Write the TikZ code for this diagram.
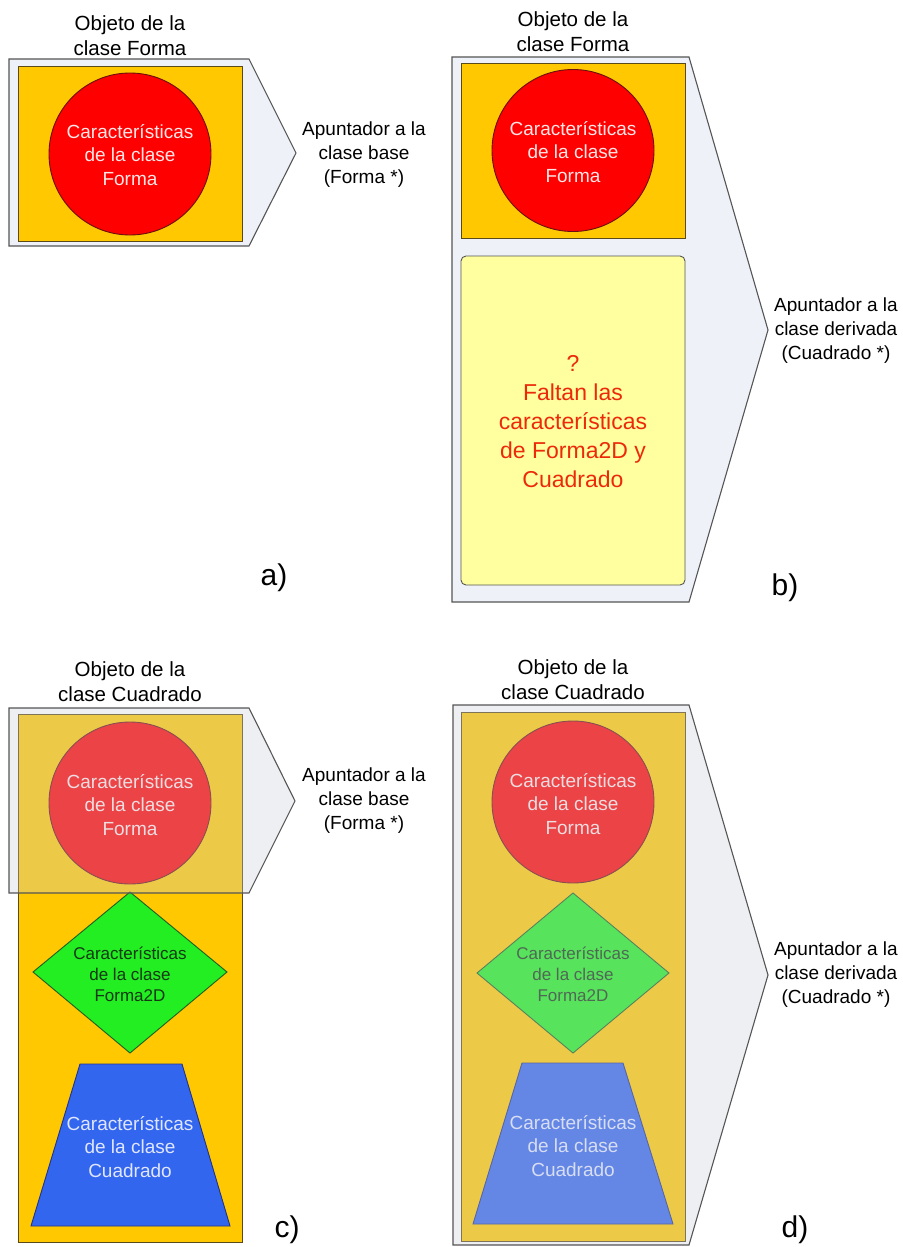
\documentclass[tikz,border=0pt]{standalone}
\usepackage{fontspec}
\setmainfont{Liberation Sans}
\definecolor{gold}{HTML}{FFC800}
\definecolor{goldline}{HTML}{5A4A1A}
\definecolor{redfill}{HTML}{FF0000}
\definecolor{redline}{HTML}{6A1010}
\definecolor{pinktext}{HTML}{FFE6E6}
\definecolor{holderfill}{HTML}{EEF1F7}
\definecolor{holderline}{HTML}{555555}
\definecolor{paleyellow}{HTML}{FFFFA0}
\definecolor{missing}{HTML}{EC2A0A}
\definecolor{greenfill}{HTML}{22EE22}
\definecolor{greenline}{HTML}{1F5F1F}
\definecolor{greentext}{HTML}{143814}
\definecolor{bluefill}{HTML}{3366EE}
\definecolor{blueline}{HTML}{22338A}
\definecolor{bluetext}{HTML}{E0E6FF}
\definecolor{veil}{RGB}{200,205,215}
\begin{document}
\begin{tikzpicture}[x=1pt,y=-1pt,
  holder/.style={draw=holderline, line width=1.1pt, fill=holderfill, line join=miter},
  veilholder/.style={draw=holderline, line width=1.1pt, fill=veil, fill opacity=0.33, line join=miter},
  goldbox/.style={draw=goldline, line width=0.9pt, fill=gold},
  formashape/.style={draw=redline, line width=0.9pt, fill=redfill},
  forma2dshape/.style={draw=greenline, line width=0.9pt, fill=greenfill},
  cuadshape/.style={draw=blueline, line width=0.9pt, fill=bluefill},
  missingbox/.style={draw=holderline, line width=0.9pt, fill=paleyellow, rounded corners=5pt},
  title/.style={font=\fontsize{20.5}{25}\selectfont, align=center, text=black, inner sep=0pt},
  pointer/.style={font=\fontsize{19}{24}\selectfont, align=center, text=black, inner sep=0pt},
  feat/.style={font=\fontsize{19}{23.5}\selectfont, align=center, inner sep=0pt},
  smallfeat/.style={font=\fontsize{17}{21}\selectfont, align=center, inner sep=0pt},
  missingtext/.style={font=\fontsize{23}{29}\selectfont, align=center, text=missing, inner sep=0pt},
  tag/.style={font=\fontsize{30}{32}\selectfont, text=black, inner sep=0pt}
]
\useasboundingbox (0,0) rectangle (902,1247);

% ---------- a) object of class Forma ----------
\path[holder] (9,59) -- (249,59) -- (296,153) -- (249,246) -- (9,246) -- cycle;
\path[goldbox] (18,66) rectangle (242,241);
\path[formashape] (130,154) circle[radius=81];
\node[title] (titleA) at (130,36) {Objeto de la\\clase Forma};
\node[feat, text=pinktext] (formaA) at (130,155) {Características\\de la clase\\Forma};
\node[pointer] (ptrA) at (364,155) {Apuntador a la\\clase base\\(Forma *)};
\node[tag] (tagA) at (274,578) {a)};

% ---------- b) derived pointer on a Forma object ----------
\path[holder] (452,57) -- (689,57) -- (768,330) -- (689,602) -- (452,602) -- cycle;
\path[goldbox] (461,63) rectangle (685,238);
\path[formashape] (573,150.5) circle[radius=81];
\path[missingbox] (461,256) rectangle (685,585);
\node[title] (titleB) at (573,32) {Objeto de la\\clase Forma};
\node[feat, text=pinktext] (formaB) at (573,152) {Características\\de la clase\\Forma};
\node[missingtext] (missingB) at (573,422) {?\\Faltan las\\características\\de Forma2D y\\Cuadrado};
\node[pointer] (ptrB) at (836,331) {Apuntador a la\\clase derivada\\(Cuadrado *)};
\node[tag] (tagB) at (785,588) {b)};

% ---------- c) base pointer on a Cuadrado object ----------
\path[goldbox] (18,714) rectangle (242,1242);
\path[formashape] (130,803) circle[radius=81];
\path[forma2dshape] (130,892) -- (227,972) -- (130,1053) -- (33,972) -- cycle;
\path[cuadshape] (80,1064) -- (182,1064) -- (230,1226) -- (31,1226) -- cycle;
\node[title] (titleC) at (130,682) {Objeto de la\\clase Cuadrado};
\node[feat, text=pinktext] (formaC) at (130,805) {Características\\de la clase\\Forma};
\node[smallfeat, text=greentext] (forma2dC) at (130,974) {Características\\de la clase\\Forma2D};
\node[feat, text=bluetext] (cuadC) at (130,1147) {Características\\de la clase\\Cuadrado};
\path[veilholder] (9,708) -- (249,708) -- (295,801) -- (249,893) -- (9,893) -- cycle;
\node[pointer] (ptrC) at (364,801) {Apuntador a la\\clase base\\(Forma *)};
\node[tag] (tagC) at (287,1230) {c)};

% ---------- d) derived pointer on a Cuadrado object ----------
\path[goldbox] (461,712) rectangle (685,1241);
\path[formashape] (573,802) circle[radius=81];
\path[forma2dshape] (573,893) -- (669,973) -- (573,1053) -- (477,973) -- cycle;
\path[cuadshape] (522,1063) -- (623,1063) -- (673,1224) -- (473,1224) -- cycle;
\node[title] (titleD) at (573,680) {Objeto de la\\clase Cuadrado};
\node[feat, text=pinktext] (formaD) at (573,804) {Características\\de la clase\\Forma};
\node[smallfeat, text=greentext] (forma2dD) at (573,974) {Características\\de la clase\\Forma2D};
\node[feat, text=bluetext] (cuadD) at (573,1146) {Características\\de la clase\\Cuadrado};
\path[veilholder] (453,705) -- (689,705) -- (768,975) -- (689,1245) -- (453,1245) -- cycle;
\node[pointer] (ptrD) at (836,975) {Apuntador a la\\clase derivada\\(Cuadrado *)};
\node[tag] (tagD) at (795,1230) {d)};
\end{tikzpicture}
\end{document}
